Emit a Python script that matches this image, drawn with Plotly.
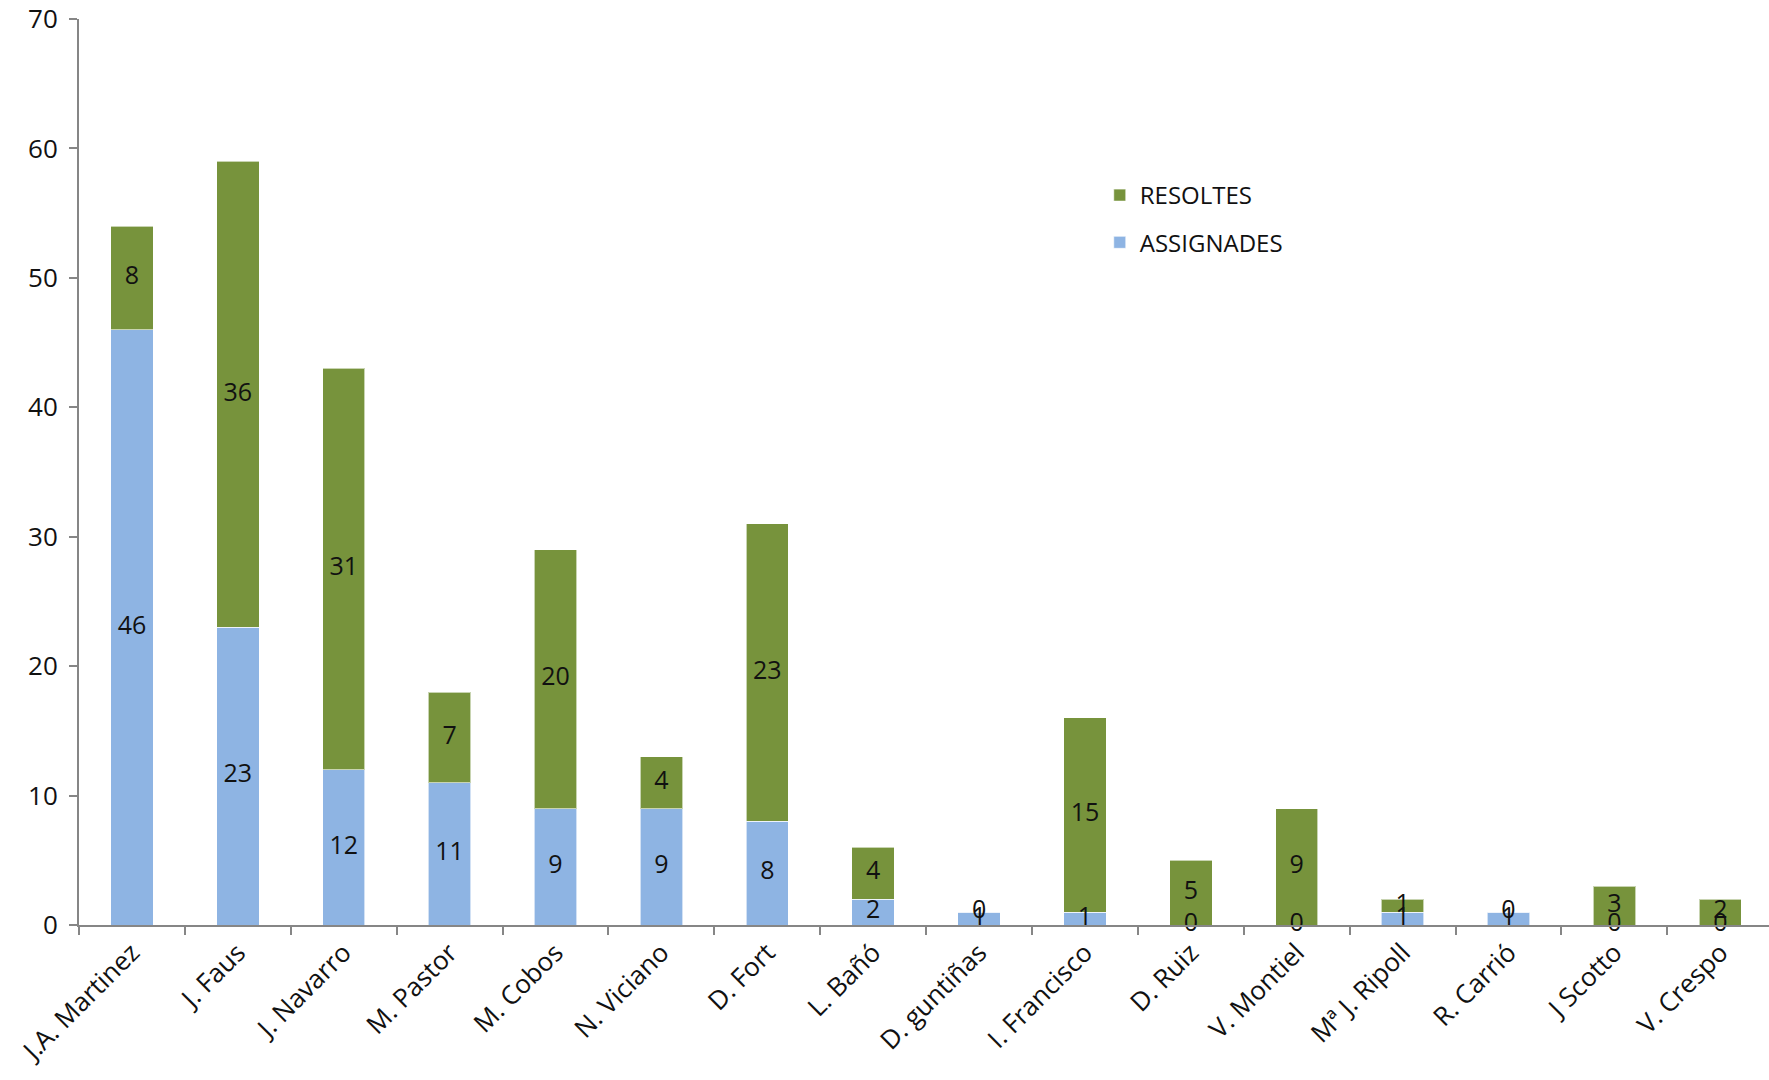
import plotly.graph_objects as go

categories = ["J.A. Martinez", "J. Faus", "J. Navarro", "M. Pastor", "M. Cobos",
              "N. Viciano", "D. Fort", "L. Bañó", "D. guntiñas", "I. Francisco",
              "D. Ruiz", "V. Montiel", "Mª J. Ripoll", "R. Carrió", "J Scotto", "V. Crespo"]
assignades = [46, 23, 12, 11, 9, 9, 8, 2, 1, 1, 0, 0, 1, 1, 0, 0]
resoltes = [8, 36, 31, 7, 20, 4, 23, 4, 0, 15, 5, 9, 1, 0, 3, 2]
y_ticks = [0, 10, 20, 30, 40, 50, 60, 70]

BLUE = "#8EB4E3"
GREEN = "#77933C"
FONT = "Open Sans"
TXT = "#111111"

fig = go.Figure()
fig.add_trace(go.Bar(x=categories, y=assignades, name="ASSIGNADES",
                     marker=dict(color=BLUE, line=dict(color="rgba(255,255,255,0.6)", width=1)),
                     legendgroup="a", legendrank=2, hoverinfo="skip"))
fig.add_trace(go.Bar(x=categories, y=resoltes, name="RESOLTES",
                     marker=dict(color=GREEN, line=dict(color="rgba(255,255,255,0.6)", width=1)),
                     legendgroup="r", legendrank=1, hoverinfo="skip"))

# data labels centred in each segment
fig.add_trace(go.Scatter(x=categories, y=[a / 2 for a in assignades], mode="text",
                         text=[str(a) for a in assignades], showlegend=False, cliponaxis=False,
                         textfont=dict(family=FONT, size=25, color=TXT), hoverinfo="skip"))
fig.add_trace(go.Scatter(x=categories, y=[a + r / 2 for a, r in zip(assignades, resoltes)], mode="text",
                         text=[str(r) for r in resoltes], showlegend=False, cliponaxis=False,
                         textfont=dict(family=FONT, size=25, color=TXT), hoverinfo="skip"))

fig.update_layout(
    barmode="stack", bargap=0.6,
    width=1769, height=1080,
    margin=dict(l=79, r=0, t=19, b=155),
    paper_bgcolor="white", plot_bgcolor="white",
    font=dict(family=FONT, size=25, color=TXT),
    legend=dict(x=0.604, y=0.83, xanchor="left", yanchor="top",
                traceorder="grouped", tracegroupgap=13,
                font=dict(family=FONT, size=24, color=TXT),
                bgcolor="rgba(0,0,0,0)"),
    xaxis=dict(type="category", range=[-0.5, 15.46], tickangle=-45,
               showline=True, linecolor="#868686", linewidth=2,
               ticks="outside", tickson="boundaries", ticklen=8, tickcolor="#868686", tickwidth=2,
               showgrid=False, tickfont=dict(family=FONT, size=26, color=TXT)),
    yaxis=dict(range=[0, 70], tickvals=y_ticks, showline=True, linecolor="#868686", linewidth=2,
               ticks="outside", ticklen=8, tickcolor="#868686", tickwidth=2,
               showgrid=False, zeroline=False, ticklabelstandoff=6,
               tickfont=dict(family=FONT, size=26, color=TXT)),
    showlegend=True,
)

fig.write_html("out.html", config={"displayModeBar": False},
               post_script="document.body.style.margin='0px';")
